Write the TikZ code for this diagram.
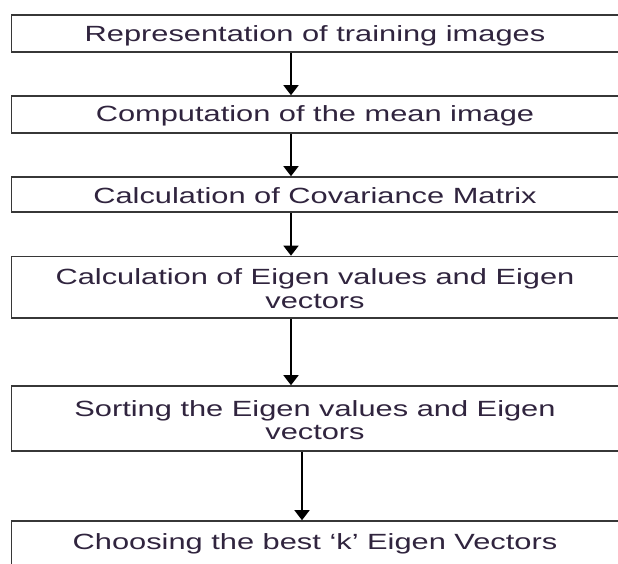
\documentclass[tikz,border=0pt]{standalone}
\usepackage{fontspec}
\newfontfamily\boxfont[FakeStretch=1.4]{Liberation Sans}
\usetikzlibrary{arrows.meta}
\definecolor{txtcol}{RGB}{48,36,62}
\definecolor{linecol}{RGB}{55,55,55}
\tikzset{
  stepbox/.style={draw=linecol, line width=1.6pt, rectangle, inner sep=0pt,
    minimum width=607.5pt},
  steptext/.style={inner sep=0pt, align=center, text=txtcol,
    font=\boxfont\fontsize{22}{23.5}\selectfont},
  flowarrow/.style={draw=black, line width=1.5pt,
    -{Triangle[width=15pt,length=10pt]}}
}
\begin{document}
\begin{tikzpicture}[x=1pt,y=-1pt]
\useasboundingbox (0,0) rectangle (618,563);
\clip (0,0) rectangle (618,563);
\fill[white] (0,0) rectangle (618,563);
\node[stepbox, minimum height=37pt] (b1) at (315.25,33.5) {};
\node[stepbox, minimum height=37pt] (b2) at (315.25,114.5) {};
\node[stepbox, minimum height=35pt] (b3) at (315.25,194.5) {};
\node[stepbox, minimum height=61.5pt] (b4) at (315.25,287.25) {};
\node[stepbox, minimum height=65pt] (b5) at (315.25,418.5) {};
\node[stepbox, minimum height=45.4pt] (b6) at (315.25,543.7) {};
\node[steptext] (t1) at ([xshift=-0.25pt,yshift=-2pt]b1.center) {Representation of training images};
\node[steptext] (t2) at ([xshift=-0.25pt,yshift=-1pt]b2.center) {Computation of the mean image};
\node[steptext] (t3) at ([xshift=-0.25pt,yshift=-1.5pt]b3.center) {Calculation of Covariance Matrix};
\node[steptext] (t4) at ([xshift=-0.25pt,yshift=-1.5pt]b4.center) {Calculation of Eigen values and Eigen\\vectors};
\node[steptext] (t5) at ([xshift=-0.25pt,yshift=-1.5pt]b5.center) {Sorting the Eigen values and Eigen\\vectors};
\node[steptext] (t6) at ([xshift=-0.25pt,yshift=0pt]b6.center) {Choosing the best ‘k’ Eigen Vectors};
\coordinate (ax) at (291,0);
\coordinate (ax2) at (302,0);
\draw[flowarrow] (b1.south -| ax) -- (b2.north -| ax);
\draw[flowarrow] (b2.south -| ax) -- (b3.north -| ax);
\draw[flowarrow] (b3.south -| ax) -- (b4.north -| ax);
\draw[flowarrow] (b4.south -| ax) -- (b5.north -| ax);
\draw[flowarrow] (b5.south -| ax2) -- (b6.north -| ax2);
\end{tikzpicture}
\end{document}
